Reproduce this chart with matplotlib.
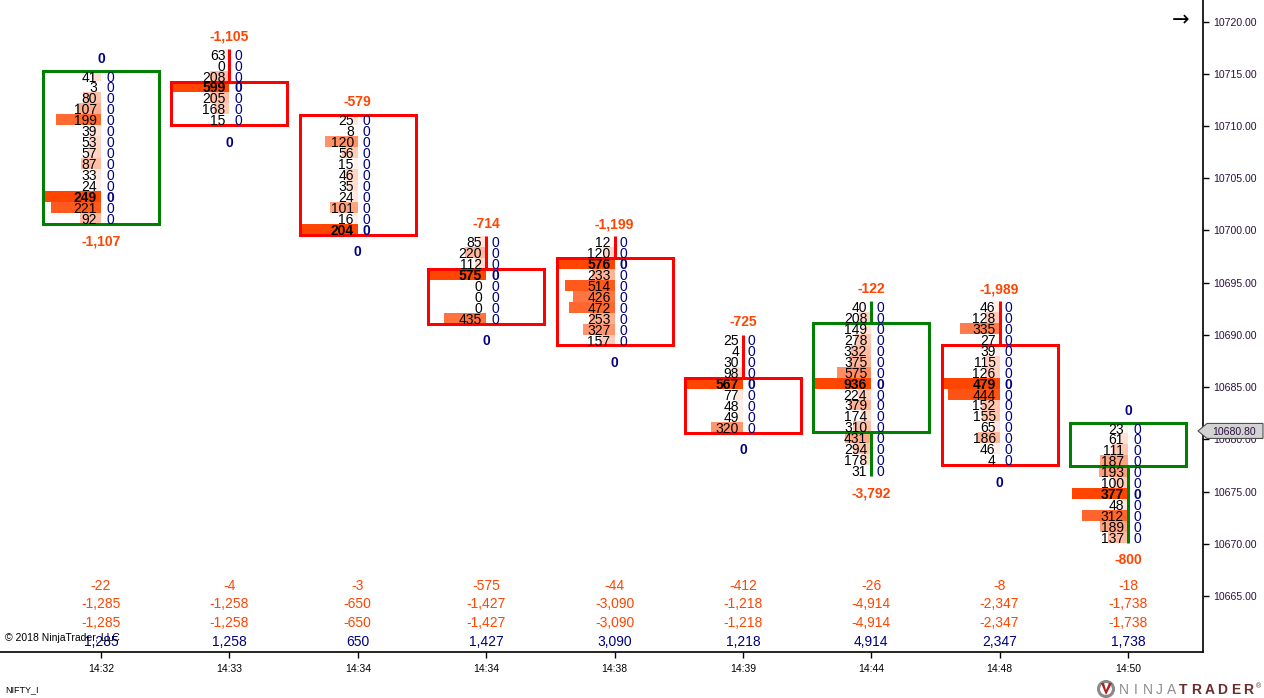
import matplotlib
matplotlib.use('Agg')
import matplotlib.pyplot as plt
from matplotlib.patches import Rectangle, Polygon, Ellipse
import matplotlib.transforms as mtransforms

plt.rcParams['font.family'] = ['Liberation Sans', 'DejaVu Sans']

# ---------------- data ----------------
times = ['14:32', '14:33', '14:34', '14:34', '14:38', '14:39', '14:44', '14:48', '14:50']

bid_1 = [41, 3, 80, 107, 199, 39, 53, 57, 87, 33, 24, 249, 221, 92]
bid_2 = [63, 0, 208, 599, 205, 168, 15]
bid_3 = [25, 8, 120, 56, 15, 46, 35, 24, 101, 16, 204]
bid_4 = [85, 220, 112, 575, 0, 0, 0, 435]
bid_5 = [12, 120, 576, 233, 514, 426, 472, 253, 327, 157]
bid_6 = [25, 4, 30, 98, 567, 77, 48, 49, 320]
bid_7 = [40, 208, 149, 278, 332, 375, 575, 936, 224, 379, 174, 310, 431, 294, 178, 31]
bid_8 = [46, 128, 335, 27, 39, 115, 126, 479, 444, 152, 155, 65, 186, 46, 4]
bid_9 = [23, 61, 111, 187, 193, 100, 377, 48, 312, 189, 137]

ask_1 = [0, 0, 0, 0, 0, 0, 0, 0, 0, 0, 0, 0, 0, 0]
ask_2 = [0, 0, 0, 0, 0, 0, 0]
ask_3 = [0, 0, 0, 0, 0, 0, 0, 0, 0, 0, 0]
ask_4 = [0, 0, 0, 0, 0, 0, 0, 0]
ask_5 = [0, 0, 0, 0, 0, 0, 0, 0, 0, 0]
ask_6 = [0, 0, 0, 0, 0, 0, 0, 0, 0]
ask_7 = [0, 0, 0, 0, 0, 0, 0, 0, 0, 0, 0, 0, 0, 0, 0, 0]
ask_8 = [0, 0, 0, 0, 0, 0, 0, 0, 0, 0, 0, 0, 0, 0, 0]
ask_9 = [0, 0, 0, 0, 0, 0, 0, 0, 0, 0, 0]

# price of the top row of each bar
high_price = [10714.78, 10716.87, 10710.57, 10698.92, 10698.92,
              10689.51, 10692.70, 10692.70, 10681.08]
row_step = 1.046                      # price per footprint row
body_first = [0, 3, 0, 3, 2, 4, 2, 4, 0]   # row index of body top
body_last = [13, 6, 10, 7, 9, 8, 11, 14, 3]  # row index of body bottom
bar_up = [True, False, False, False, False, False, True, False, True]

top_labels = ['0', '-1,105', '-579', '-714', '-1,199', '-725', '-122', '-1,989', '0']
bottom_labels = ['-1,107', '0', '0', '0', '0', '0', '-3,792', '0', '-800']

delta = ['-22', '-4', '-3', '-575', '-44', '-412', '-26', '-8', '-18']
row2 = ['-1,285', '-1,258', '-650', '-1,427', '-3,090', '-1,218', '-4,914', '-2,347', '-1,738']
row3 = ['-1,285', '-1,258', '-650', '-1,427', '-3,090', '-1,218', '-4,914', '-2,347', '-1,738']
volume = ['1,285', '1,258', '650', '1,427', '3,090', '1,218', '4,914', '2,347', '1,738']

price_ticks = [10665, 10670, 10675, 10680, 10685, 10690, 10695, 10700,
               10705, 10710, 10715, 10720]
last_price = 10680.80

bids = [bid_1, bid_2, bid_3, bid_4, bid_5, bid_6, bid_7, bid_8, bid_9]
asks = [ask_1, ask_2, ask_3, ask_4, ask_5, ask_6, ask_7, ask_8, ask_9]

# ---------------- layout ----------------
W, H = 1264, 698
PX_X = 128.375   # pixels per column unit
PX_Y = 10.445    # pixels per price point
ORANGE = '#FF4500'
NAVY = '#000080'
RED = '#FF0000'
GREEN = '#008000'

fig = plt.figure(figsize=(W / 100, H / 100), dpi=100)
fig.patch.set_facecolor('white')
ax = fig.add_axes([0, (H - 652) / H, 1203 / W, 652 / H])
ax.set_facecolor('white')
ax.set_xlim(-101 / PX_X, (1203 - 101) / PX_X)
ax.set_ylim(10720 - 630.5 / PX_Y, 10720 + 21.5 / PX_Y)

for s in ['top', 'left']:
    ax.spines[s].set_visible(False)
ax.spines['right'].set_linewidth(1.2)
ax.spines['bottom'].set_linewidth(1.2)

ax.set_xticks(range(len(times)))
ax.set_xticklabels(times, fontsize=7.5)
ax.tick_params(axis='x', direction='out', length=4, width=1, pad=5, colors='black')
ax.yaxis.tick_right()
ax.set_yticks(price_ticks)
ax.set_yticklabels([f'{p:.2f}' for p in price_ticks], fontsize=7.6, color='#2b1040')
ax.tick_params(axis='y', direction='out', length=4, width=1, pad=3)

BAR_W = 56 / PX_X
HALF_BOX = 58 / PX_X
LW = 2.16


def blend(frac):
    base = (1.0, 69 / 255, 0.0)
    return tuple(1 - frac * (1 - c) for c in base)


blended = mtransforms.blended_transform_factory(ax.transData, ax.transAxes)

for i in range(len(times)):
    xc = i
    b_list = bids[i]
    a_list = asks[i]
    vmax = max(b_list)
    prices = [high_price[i] - k * row_step for k in range(len(b_list))]
    for k, (b, a, p) in enumerate(zip(b_list, a_list, prices)):
        if b > 0:
            L = b / vmax * BAR_W
            ax.add_patch(Rectangle((xc - L, p - row_step / 2), L, row_step,
                                   facecolor=blend(b / vmax), edgecolor='none', zorder=1))
        bold = 'bold' if b == vmax else 'normal'
        ax.text(xc - 4 / PX_X, p, f'{b}', ha='right', va='center_baseline',
                fontsize=10, color='black', weight=bold, zorder=5)
        ax.text(xc + 5 / PX_X, p, f'{a}', ha='left', va='center_baseline',
                fontsize=10, color=NAVY, weight=bold, zorder=5)
    col = GREEN if bar_up[i] else RED
    top_edge = prices[body_first[i]] + row_step / 2
    bot_edge = prices[body_last[i]] - row_step / 2
    ax.add_patch(Rectangle((xc - HALF_BOX, bot_edge), 2 * HALF_BOX, top_edge - bot_edge,
                           fill=False, edgecolor=col, lw=LW, zorder=3))
    hi = prices[0] + row_step / 2
    lo = prices[-1] - row_step / 2
    if hi > top_edge + 1e-6:
        ax.plot([xc, xc], [top_edge, hi], color=col, lw=LW, solid_capstyle='butt', zorder=2)
    if lo < bot_edge - 1e-6:
        ax.plot([xc, xc], [lo, bot_edge], color=col, lw=LW, solid_capstyle='butt', zorder=2)

    tcol = NAVY if top_labels[i] == '0' else ORANGE
    ax.annotate(top_labels[i], xy=(xc, prices[0]), xytext=(0, 19), textcoords='offset pixels',
                ha='center', va='center_baseline', fontsize=10, weight='bold', color=tcol)
    bcol = NAVY if bottom_labels[i] == '0' else ORANGE
    ax.annotate(bottom_labels[i], xy=(xc, prices[-1]), xytext=(0, -21.5), textcoords='offset pixels',
                ha='center', va='center_baseline', fontsize=10, weight='bold', color=bcol)

    for txt, ypx, c in [(delta[i], 584, ORANGE), (row2[i], 603, ORANGE),
                        (row3[i], 621.5, ORANGE), (volume[i], 640, NAVY)]:
        ax.text(xc, (652 - ypx) / 652, txt, transform=blended, ha='center',
                va='center_baseline', fontsize=10, color=c)

# copyright and instrument
fig.text(5 / W, 1 - 637 / H, '\u00a9 2018 NinjaTrader, LLC', fontsize=7.5, color='black',
         ha='left', va='center_baseline', zorder=6)
fig.text(5 / W, 1 - 689 / H, 'NIFTY_I', fontsize=6.5, color='black', ha='left',
         va='center_baseline')

# arrow at top right
fig.text(1181 / W, 1 - 20 / H, '\u2192', fontsize=15, color='black', ha='center',
         va='center', family='DejaVu Sans')

# last price marker
mix = mtransforms.blended_transform_factory(fig.transFigure, ax.transData)
hh = 7.5 / PX_Y
poly = Polygon([(1198 / W, last_price), (1207 / W, last_price + hh), (1263 / W, last_price + hh),
                (1263 / W, last_price - hh), (1207 / W, last_price - hh)], closed=True,
               transform=mix, facecolor='#D3D3D3', edgecolor='#505050', lw=0.8, zorder=10,
               clip_on=False)
fig.add_artist(poly)
fig.text(1212 / W, last_price, f'{last_price:.2f}', transform=mix, fontsize=7.6,
         color='#2b1040', ha='left', va='center_baseline', zorder=11)

# NinjaTrader logo
ly = 1 - 689 / H
fig.add_artist(Ellipse((1106 / W, ly), 15 / W, 15 / H, transform=fig.transFigure,
                       facecolor='none', edgecolor='#8a8a8a', lw=2.2, zorder=10))
fig.add_artist(Polygon([(1101 / W, ly + 6 / H), (1106 / W, ly - 6 / H), (1112 / W, ly + 6 / H),
                        (1109 / W, ly + 6 / H), (1106 / W, ly - 1 / H), (1104 / W, ly + 6 / H)],
                       closed=True, transform=fig.transFigure, facecolor='#b02020',
                       edgecolor='none', zorder=11))
for j, ch in enumerate('NINJA'):
    fig.text((1118 + 5.9 + 11.8 * j) / W, ly, ch, fontsize=10, color='#8c8c8c', ha='center',
             va='center_baseline')
for j, ch in enumerate('TRADER'):
    fig.text((1177 + 6.5 + 13 * j) / W, ly, ch, fontsize=10, color='#6e2b2b', ha='center',
             va='center_baseline', weight='bold')
fig.text(1259 / W, ly + 3 / H, '\u00ae', fontsize=5, color='#6e2b2b', ha='center',
         va='center_baseline')

fig.savefig('out.png', dpi=100, facecolor='white')
